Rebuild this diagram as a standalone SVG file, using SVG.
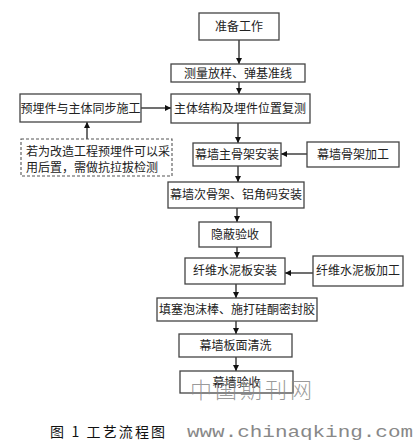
<svg xmlns="http://www.w3.org/2000/svg" width="417" height="447" viewBox="0 0 417 447">
<style>
.box{fill:#fff;stroke:#444;stroke-width:1.3}
.dash{fill:#fff;stroke:#555;stroke-width:1.1;stroke-dasharray:3,2}
.t{font-family:"Noto Sans CJK SC","Noto Sans CJK JP",sans-serif;font-size:12px;fill:#222;text-anchor:middle}
.tl{font-family:"Noto Sans CJK SC","Noto Sans CJK JP",sans-serif;font-size:12px;fill:#222}
.ln{stroke:#222;stroke-width:1.3;fill:none;marker-end:url(#ah)}
</style>
<defs>
<marker id="ah" viewBox="0 0 10 10" refX="10" refY="5" markerWidth="6" markerHeight="6" markerUnits="userSpaceOnUse" orient="auto">
<path d="M0,0 L10,5 L0,10 z" fill="#111"/>
</marker>
</defs>
<rect width="417" height="447" fill="#fff"/>
<g id="connectors">
<line class="ln" x1="239" y1="40" x2="239" y2="64"/>
<line class="ln" x1="239" y1="82" x2="239" y2="94"/>
<line class="ln" x1="141" y1="108" x2="171" y2="108"/>
<line class="ln" x1="87" y1="139" x2="87" y2="122"/>
<line class="ln" x1="238" y1="123" x2="238" y2="143"/>
<line class="ln" x1="307" y1="154" x2="281" y2="154"/>
<line class="ln" x1="238" y1="166" x2="238" y2="182"/>
<line class="ln" x1="237" y1="208" x2="237" y2="222"/>
<line class="ln" x1="237" y1="247" x2="237" y2="258"/>
<line class="ln" x1="313" y1="273" x2="285" y2="273"/>
<line class="ln" x1="236" y1="284" x2="236" y2="298"/>
<line class="ln" x1="236" y1="321" x2="236" y2="334"/>
<line class="ln" x1="236" y1="357" x2="236" y2="371"/>
</g>
<g id="n1"><rect class="box" x="199" y="13" width="80" height="27"/><text class="t" x="239" y="31">准备工作</text></g>
<g id="n2"><rect class="box" x="171" y="64" width="134" height="18"/><text class="t" x="238" y="77.5">测量放样、弹基准线</text></g>
<g id="n3"><rect class="box" x="171" y="94" width="139" height="29"/><text class="t" x="240" y="113">主体结构及埋件位置复测</text></g>
<g id="n4"><rect class="box" x="20" y="94" width="121" height="28"/><text class="t" x="80.5" y="112.5">预埋件与主体同步施工</text></g>
<g id="n5"><rect class="dash" x="21" y="139" width="151" height="37"/><text class="tl" x="26" y="155.5">若为改造工程预埋件可以采</text><text class="tl" x="26" y="172">用后置，需做抗拉拔检测</text></g>
<g id="n6"><rect class="box" x="193" y="143" width="88" height="23"/><text class="t" x="237" y="158.5">幕墙主骨架安装</text></g>
<g id="n7"><rect class="box" x="307" y="142" width="92" height="25"/><text class="t" x="353" y="158.5">幕墙骨架加工</text></g>
<g id="n8"><rect class="box" x="168" y="182" width="136" height="26"/><text class="t" x="236" y="199">幕墙次骨架、铝角码安装</text></g>
<g id="n9"><rect class="box" x="199" y="222" width="72" height="25"/><text class="t" x="235" y="239">隐蔽验收</text></g>
<g id="n10"><rect class="box" x="185" y="258" width="100" height="26"/><text class="t" x="235" y="275">纤维水泥板安装</text></g>
<g id="n11"><rect class="box" x="313" y="256" width="90" height="30"/><text class="t" x="358" y="275">纤维水泥板加工</text></g>
<g id="n12"><rect class="box" x="157" y="298" width="160" height="23"/><text class="t" x="237" y="314">填塞泡沫棒、施打硅酮密封胶</text></g>
<g id="n13"><rect class="box" x="179" y="334" width="113" height="23"/><text class="t" x="235.5" y="350">幕墙板面清洗</text></g>
<g id="n14"><rect class="box" x="180" y="371" width="113" height="22"/><text class="t" x="236.5" y="386.5">幕墙验收</text></g>
<text x="190" y="398" font-family="Noto Sans CJK SC,sans-serif" font-size="22" font-weight="300" fill="#888" fill-opacity="0.85" letter-spacing="3">中国期刊网</text>
<text x="50" y="437" font-family="Noto Sans CJK SC,sans-serif" font-size="14" fill="#111" textLength="115">图 1 工艺流程图</text>
<text x="187" y="437" font-family="Liberation Mono,monospace" font-size="16" fill="#888" textLength="226" lengthAdjust="spacingAndGlyphs">www.chinaqking.com</text>
</svg>
